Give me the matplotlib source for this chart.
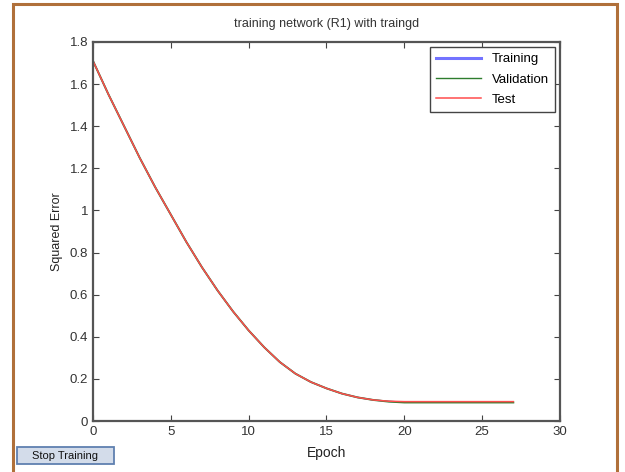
import matplotlib.pyplot as plt
from matplotlib.patches import Rectangle, FancyBboxPatch
from matplotlib.ticker import FormatStrFormatter

plt.rcParams['font.family'] = ['Liberation Sans', 'DejaVu Sans']

# Daten
epochs = [0, 1, 2, 3, 4, 5, 6, 7, 8, 9, 10, 11, 12, 13, 14, 15, 16, 17, 18, 19,
          20, 21, 22, 23, 24, 25, 26, 27]
train_err = [1.71, 1.55, 1.40, 1.25, 1.11, 0.98, 0.85, 0.73, 0.62, 0.52, 0.43,
             0.35, 0.28, 0.225, 0.185, 0.155, 0.13, 0.112, 0.1, 0.093, 0.09,
             0.09, 0.09, 0.09, 0.09, 0.09, 0.09, 0.09]
val_err = [1.71, 1.55, 1.40, 1.25, 1.11, 0.98, 0.85, 0.73, 0.62, 0.52, 0.43,
           0.35, 0.28, 0.225, 0.185, 0.155, 0.13, 0.112, 0.1, 0.092, 0.088,
           0.088, 0.088, 0.088, 0.088, 0.088, 0.088, 0.088]
test_err = [1.71, 1.55, 1.40, 1.25, 1.11, 0.98, 0.85, 0.73, 0.62, 0.52, 0.43,
            0.35, 0.28, 0.225, 0.185, 0.155, 0.13, 0.112, 0.1, 0.094, 0.092,
            0.092, 0.092, 0.092, 0.092, 0.092, 0.092, 0.092]
x_ticks = [0, 5, 10, 15, 20, 25, 30]
y_ticks = [0, 0.2, 0.4, 0.6, 0.8, 1.0, 1.2, 1.4, 1.6, 1.8]

fig = plt.figure(figsize=(6.25, 4.72), dpi=100)
ax = fig.add_axes([93 / 625, 51 / 472, 467 / 625, 379 / 472])

ax.plot(epochs, train_err, color='#7373ff', lw=1.0, label='Training')
ax.plot(epochs, val_err, color='#2e7d2e', lw=1.4, label='Validation')
ax.plot(epochs, test_err, color='#ff4d4d', lw=1.1, label='Test')

ax.set_xlim(0, 30)
ax.set_ylim(0, 1.8)
ax.set_xticks(x_ticks)
ax.set_yticks(y_ticks)
ax.yaxis.set_major_formatter(FormatStrFormatter('%g'))
ax.tick_params(direction='in', top=True, right=True, length=4, width=0.8,
               colors='#444444', labelsize=9.5, labelcolor='#333333')
for s in ax.spines.values():
    s.set_color('#555555')
    s.set_linewidth(1.6)

ax.set_title('training network (R1) with traingd', fontsize=9, color='#333333', pad=11)
ax.set_xlabel('Epoch', fontsize=10, color='#222222', labelpad=6)
ax.set_ylabel('Squared Error', fontsize=9, color='#222222', labelpad=5)

leg = ax.legend(loc='upper right', fontsize=9.5, fancybox=False, framealpha=1,
                edgecolor='#444444', borderaxespad=0.4, handlelength=3.4,
                labelspacing=0.6, borderpad=0.45)
leg.get_frame().set_linewidth(1.0)
leg.get_lines()[0].set_linewidth(2.2)
leg.get_lines()[1].set_linewidth(1.0)

# brauner Rahmen
fig.patches.append(Rectangle((13 / 625, -0.05), 604 / 625, 1.05 - 4 / 472,
                             transform=fig.transFigure, fill=False,
                             edgecolor='#b0703a', lw=2.2))

# Stop Training Knopf
fig.patches.append(FancyBboxPatch((17 / 625, 8 / 472), 97 / 625, 17 / 472,
                                  boxstyle='square,pad=0', transform=fig.transFigure,
                                  facecolor='#d3dcea', edgecolor='#5f80b0', lw=1.3))
fig.text(65 / 625, 16 / 472, 'Stop Training', fontsize=8, ha='center', va='center',
         color='#111111')

fig.savefig('out.png', dpi=100)
